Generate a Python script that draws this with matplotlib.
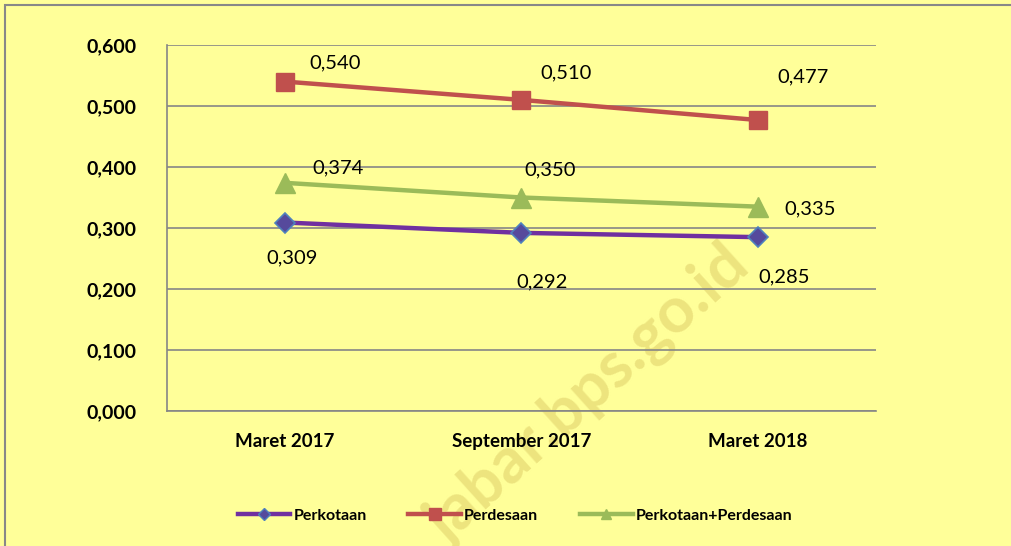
import numpy as np
import matplotlib.pyplot as plt
from matplotlib.lines import Line2D
from matplotlib.patches import Rectangle

periode = ['Maret 2017', 'September 2017', 'Maret 2018']
perkotaan = [0.309, 0.292, 0.285]
perdesaan = [0.540, 0.510, 0.477]
gabungan = [0.374, 0.350, 0.335]

bg = '#FFFF99'
plt.rcParams['font.family'] = ['Lato', 'DejaVu Sans']

fig = plt.figure(figsize=(10.11, 5.46), dpi=100, facecolor=bg)
ax = fig.add_axes([167/1011, 1 - 411/546, (876-167)/1011, (411-45)/546])
ax.patch.set_visible(False)

# frame around the chart area
fig.patches.append(Rectangle((5/1011, -0.1), 1.2, 1.1 - 5/546, transform=fig.transFigure,
                             fill=False, edgecolor='#888888', linewidth=1.5))

pos = np.arange(len(periode))
lw = 3.2
ax.plot(pos, perkotaan, color='#7030A0', lw=lw, marker='D', ms=10,
        mfc='#564A9C', mec='#4F81BD', mew=1.2, zorder=3)
ax.plot(pos, perdesaan, color='#C0504D', lw=lw, marker='s', ms=13,
        mfc='#C0504D', mec='#C0504D', zorder=3)
ax.plot(pos, gabungan, color='#9BBB59', lw=lw, marker='^', ms=14,
        mfc='#9BBB59', mec='#9BBB59', zorder=3)

# data labels (pixel offsets from the point)
off_perkotaan = [(7, -35), (21, -49), (26, -40)]
off_perdesaan = [(50, 19), (45, 27), (45, 43)]
off_gabungan = [(53, 15), (29, 28), (52, -2)]
for series, offs in [(perkotaan, off_perkotaan), (perdesaan, off_perdesaan), (gabungan, off_gabungan)]:
    for i, v in enumerate(series):
        ax.annotate(f'{v:.3f}'.replace('.', ','), (pos[i], v), xytext=offs[i],
                    textcoords='offset pixels', ha='center', va='center', fontsize=14.5)

ax.set_xlim(-0.5, 2.5)
ax.set_ylim(0, 0.6)
ax.set_yticks(np.arange(0, 0.61, 0.1))
ax.set_yticklabels([f'{v:.3f}'.replace('.', ',') for v in np.arange(0, 0.61, 0.1)],
                   fontsize=14, fontweight='bold')
ax.set_xticks(pos)
ax.set_xticklabels(periode, fontsize=13.5, fontweight='bold')
ax.tick_params(length=0, pad=22)
ax.tick_params(axis='x', pad=16)
ax.grid(axis='y', color='#868686', lw=1.2)
ax.set_axisbelow(True)
for s in ['top', 'right']:
    ax.spines[s].set_visible(False)
for s in ['left', 'bottom']:
    ax.spines[s].set_color('#868686')
    ax.spines[s].set_linewidth(1.2)

handles = [
    Line2D([], [], color='#7030A0', lw=3.2, marker='D', ms=6, mfc='#564A9C', mec='#4F81BD'),
    Line2D([], [], color='#C0504D', lw=3.2, marker='s', ms=8, mfc='#C0504D'),
    Line2D([], [], color='#9BBB59', lw=3.2, marker='^', ms=7, mfc='#9BBB59'),
]
fig.legend(handles, ['Perkotaan', 'Perdesaan', 'Perkotaan+Perdesaan'], loc='center',
           bbox_to_anchor=(515/1011, 1 - 516/546), ncol=3, frameon=False,
           prop={'weight': 'bold', 'size': 11.5}, handlelength=3.3, handletextpad=0.2,
           columnspacing=2.6)

# watermark, behind the grid
fig.text(588/1011, 1 - 395/546, 'jabar.bps.go.id', rotation=42, fontsize=46,
         fontweight='bold', color='#EDE47E', ha='center', va='center', zorder=-1)

fig.savefig('out.png', dpi=100, facecolor=bg)
